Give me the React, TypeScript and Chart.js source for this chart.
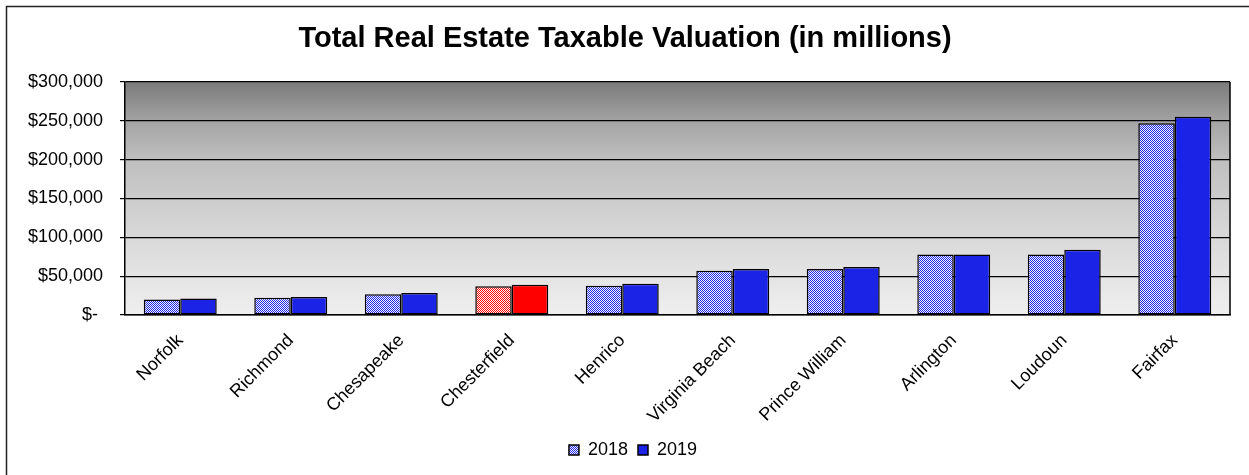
import React, { useEffect, useRef } from 'react';
import { Chart, registerables } from 'chart.js';

Chart.register(...registerables);

const chartTitle = 'Total Real Estate Taxable Valuation (in millions)';
const categories = [
  'Norfolk',
  'Richmond',
  'Chesapeake',
  'Chesterfield',
  'Henrico',
  'Virginia Beach',
  'Prince William',
  'Arlington',
  'Loudoun',
  'Fairfax',
];
const seriesLabels = ['2018', '2019'];
const values2018 = [19800, 22300, 26600, 37000, 37800, 57000, 59200, 78000, 78000, 246800];
const values2019 = [21300, 23100, 28300, 39000, 40300, 59200, 61800, 78000, 84000, 255300];
const highlightIndex = 3; // Chesterfield
const yMin = 0;
const yMax = 300000;
const yStep = 50000;

const BLUE = '#1A23E6';
const RED = '#FF0000';
const FONT = 'Arial, "Liberation Sans", Helvetica, sans-serif';

function makePattern(fg: string, bg: string): CanvasPattern | string {
  const c = document.createElement('canvas');
  c.width = 2;
  c.height = 2;
  const g = c.getContext('2d');
  if (!g) return fg;
  g.fillStyle = bg;
  g.fillRect(0, 0, 2, 2);
  g.fillStyle = fg;
  g.fillRect(0, 0, 1, 1);
  g.fillRect(1, 1, 1, 1);
  const p = g.createPattern(c, 'repeat');
  return p || fg;
}

function formatTick(v: number): string {
  if (v === 0) return '$- ';
  return '$' + v.toLocaleString('en-US');
}

export default function App() {
  const ref = useRef<HTMLCanvasElement | null>(null);

  useEffect(() => {
    if (!ref.current) return;
    const bluePattern = makePattern(BLUE, '#FFFFFF');
    const redPattern = makePattern(RED, '#FFFFFF');

    const bgPlugin = {
      id: 'bgPlugin',
      afterLayout(chart: any) {
        // nudge the legend so it sits where the original one sits
        const lg = chart.legend;
        if (lg) {
          lg.left += 8;
          lg.right += 8;
        }
      },
      beforeDraw(chart: any) {
        const { ctx, chartArea } = chart;
        const { left, top, right, bottom } = chartArea;
        ctx.save();
        const grad = ctx.createLinearGradient(0, top, 0, bottom);
        grad.addColorStop(0, '#7b7b7b');
        grad.addColorStop(0.17, '#a4a4a4');
        grad.addColorStop(0.33, '#bebebe');
        grad.addColorStop(0.5, '#cccccc');
        grad.addColorStop(0.67, '#d9d9d9');
        grad.addColorStop(0.83, '#e4e4e4');
        grad.addColorStop(1, '#efefef');
        ctx.fillStyle = grad;
        ctx.fillRect(left, top, right - left, bottom - top);
        // outer chart frame (only left & top edges fall inside the picture)
        ctx.strokeStyle = '#222';
        ctx.lineWidth = 1.5;
        ctx.beginPath();
        ctx.moveTo(6.5, chart.height + 10);
        ctx.lineTo(6.5, 6.5);
        ctx.lineTo(chart.width + 10, 6.5);
        ctx.stroke();
        ctx.restore();
      },
      afterDraw(chart: any) {
        const { ctx, chartArea } = chart;
        ctx.save();
        ctx.strokeStyle = '#000';
        ctx.lineWidth = 1.5;
        ctx.beginPath();
        ctx.moveTo(chartArea.right, chartArea.top);
        ctx.lineTo(chartArea.right, chartArea.bottom);
        ctx.stroke();
        ctx.restore();
      },
    };

    const chart = new Chart(ref.current, {
      type: 'bar',
      data: {
        labels: categories,
        datasets: [
          {
            label: seriesLabels[0],
            data: values2018,
            backgroundColor: (c: any) =>
              c.dataIndex === highlightIndex ? redPattern : bluePattern,
            borderColor: '#000',
            borderWidth: 1.5,
            borderSkipped: false,
            categoryPercentage: 0.66,
            barPercentage: 1.0,
          } as any,
          {
            label: seriesLabels[1],
            data: values2019,
            backgroundColor: (c: any) => (c.dataIndex === highlightIndex ? RED : BLUE),
            borderColor: '#000',
            borderWidth: 1.5,
            borderSkipped: false,
            categoryPercentage: 0.66,
            barPercentage: 1.0,
          } as any,
        ],
      },
      options: {
        responsive: false,
        animation: false,
        devicePixelRatio: 1,
        layout: { padding: { left: 20, right: 19, top: 0, bottom: 6 } },
        plugins: {
          title: {
            display: true,
            text: chartTitle,
            color: '#000',
            font: { family: FONT, size: 29, weight: 'bold' },
            padding: { top: 22, bottom: 25.2 },
          },
          legend: {
            display: true,
            position: 'bottom',
            labels: {
              color: '#000',
              font: { family: FONT, size: 18 },
              boxWidth: 10,
              boxHeight: 10,
              padding: 10,
            },
          },
          tooltip: { enabled: false },
        },
        scales: {
          x: {
            offset: true,
            grid: { display: false, drawTicks: false },
            border: { display: true, color: '#000', width: 1.5 },
            ticks: {
              color: '#000',
              font: { family: FONT, size: 18 },
              minRotation: 45,
              maxRotation: 45,
              autoSkip: false,
              padding: 15,
              labelOffset: 0,
            },
            afterFit(scale: any) {
              scale.height = 116;
            },
          },
          y: {
            min: yMin,
            max: yMax,
            grid: { color: '#000', lineWidth: 1.2, tickLength: 5, drawTicks: true },
            border: { display: true, color: '#000', width: 1.5 },
            ticks: {
              stepSize: yStep,
              color: '#000',
              font: { family: FONT, size: 18 },
              padding: 17,
              callback: (v: any) => formatTick(Number(v)),
            },
            afterFit(scale: any) {
              scale.width = 105;
            },
          },
        },
      } as any,
      plugins: [bgPlugin],
    });

    return () => chart.destroy();
  }, []);

  return (
    <div style={{ position: 'absolute', left: 0, top: 0, width: 1249, height: 475, background: '#fff' }}>
      <canvas ref={ref} width={1249} height={475} style={{ display: 'block' }} />
    </div>
  );
}
